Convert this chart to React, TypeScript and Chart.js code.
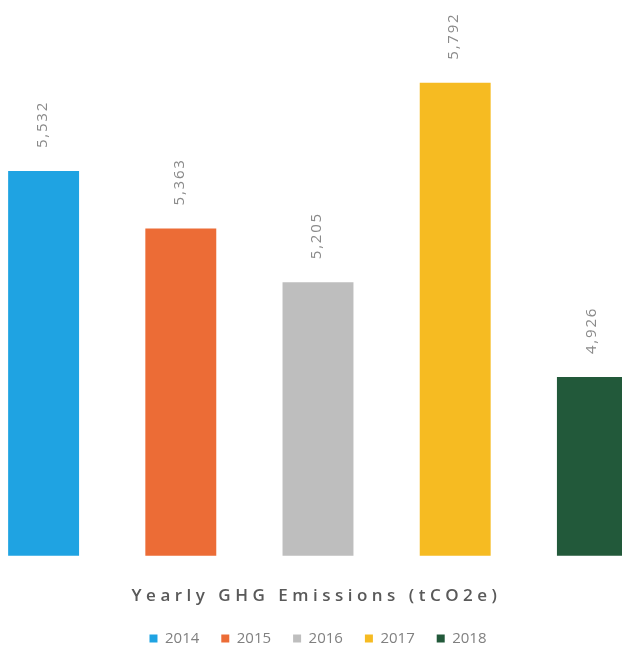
import React, { useEffect, useRef } from "react";
import { Chart, registerables } from "chart.js";

Chart.register(...registerables);

const years = ["2014", "2015", "2016", "2017", "2018"];
const emissions = [5532, 5363, 5205, 5792, 4926];
const colors = ["#1fa3e2", "#ec6c36", "#bebebe", "#f6bb22", "#22593a"];
const chartTitle = "Yearly GHG Emissions (tCO2e)";
const yMin = 4400;
const yMax = 6000;

const valueLabels = {
  id: "valueLabels",
  afterDatasetsDraw(chart: any) {
    const ctx = chart.ctx;
    chart.data.datasets.forEach((ds: any, di: number) => {
      const meta = chart.getDatasetMeta(di);
      meta.data.forEach((el: any, i: number) => {
        const v = ds.data[i];
        if (v === null || v === undefined) return;
        ctx.save();
        ctx.translate(el.x - 1, el.y - 23);
        ctx.rotate(-Math.PI / 2);
        ctx.font = "15px 'Open Sans', sans-serif";
        (ctx as any).letterSpacing = "1.8px";
        ctx.fillStyle = "#8a8a8a";
        ctx.textAlign = "left";
        ctx.textBaseline = "middle";
        ctx.fillText(Number(v).toLocaleString("en-US"), 0, 0);
        ctx.restore();
      });
    });
  },
};

const spacedTitle = {
  id: "spacedTitle",
  afterDraw(chart: any) {
    const ctx = chart.ctx;
    const xs = chart.scales.x;
    ctx.save();
    ctx.font = "600 17px 'Open Sans', sans-serif";
    (ctx as any).letterSpacing = "4.5px";
    ctx.fillStyle = "#595959";
    ctx.textAlign = "center";
    ctx.textBaseline = "middle";
    const cx = (chart.chartArea.left + chart.chartArea.right) / 2 - 1.5;
    ctx.fillText(chartTitle, cx, xs.top + 40);
    ctx.restore();
  },
};

export default function App() {
  const ref = useRef<HTMLCanvasElement | null>(null);
  useEffect(() => {
    document.body.style.overflow = "hidden";
    const datasets = years.map((y, i) => ({
      label: y,
      data: emissions.map((v, j) => (j === i ? v : null)),
      backgroundColor: colors[i],
      borderWidth: 0,
      barPercentage: 0.517,
      categoryPercentage: 1,
      skipNull: true,
    }));
    const chart = new Chart(ref.current as HTMLCanvasElement, {
      type: "bar",
      data: { labels: years, datasets },
      options: {
        animation: false,
        responsive: false,
        maintainAspectRatio: false,
        layout: { padding: { top: 12, bottom: 0, left: 0, right: 0 } },
        scales: {
          x: {
            grid: { display: false },
            border: { display: false },
            ticks: { display: false },
            title: {
              display: true,
              text: chartTitle,
              color: "rgba(0,0,0,0)",
              font: { size: 16 },
              padding: { top: 10, bottom: 16 },
            },
          },
          y: {
            display: false,
            min: yMin,
            max: yMax,
          },
        },
        plugins: {
          legend: {
            position: "bottom",
            labels: {
              boxWidth: 8,
              boxHeight: 8,
              padding: 22,
              color: "#808080",
              font: { family: "'Open Sans', sans-serif", size: 15 },
            },
          },
          tooltip: { enabled: false },
        },
      },
      plugins: [valueLabels, spacedTitle],
    });
    return () => chart.destroy();
  }, []);
  return (
    <div
      style={{
        position: "fixed",
        left: 0,
        top: 0,
        width: 622,
        height: 647,
        overflow: "hidden",
        background: "#fff",
      }}
    >
      <canvas
        ref={ref}
        width={686}
        height={656}
        style={{ position: "absolute", left: -25, top: 0, width: 686, height: 656 }}
      />
    </div>
  );
}
